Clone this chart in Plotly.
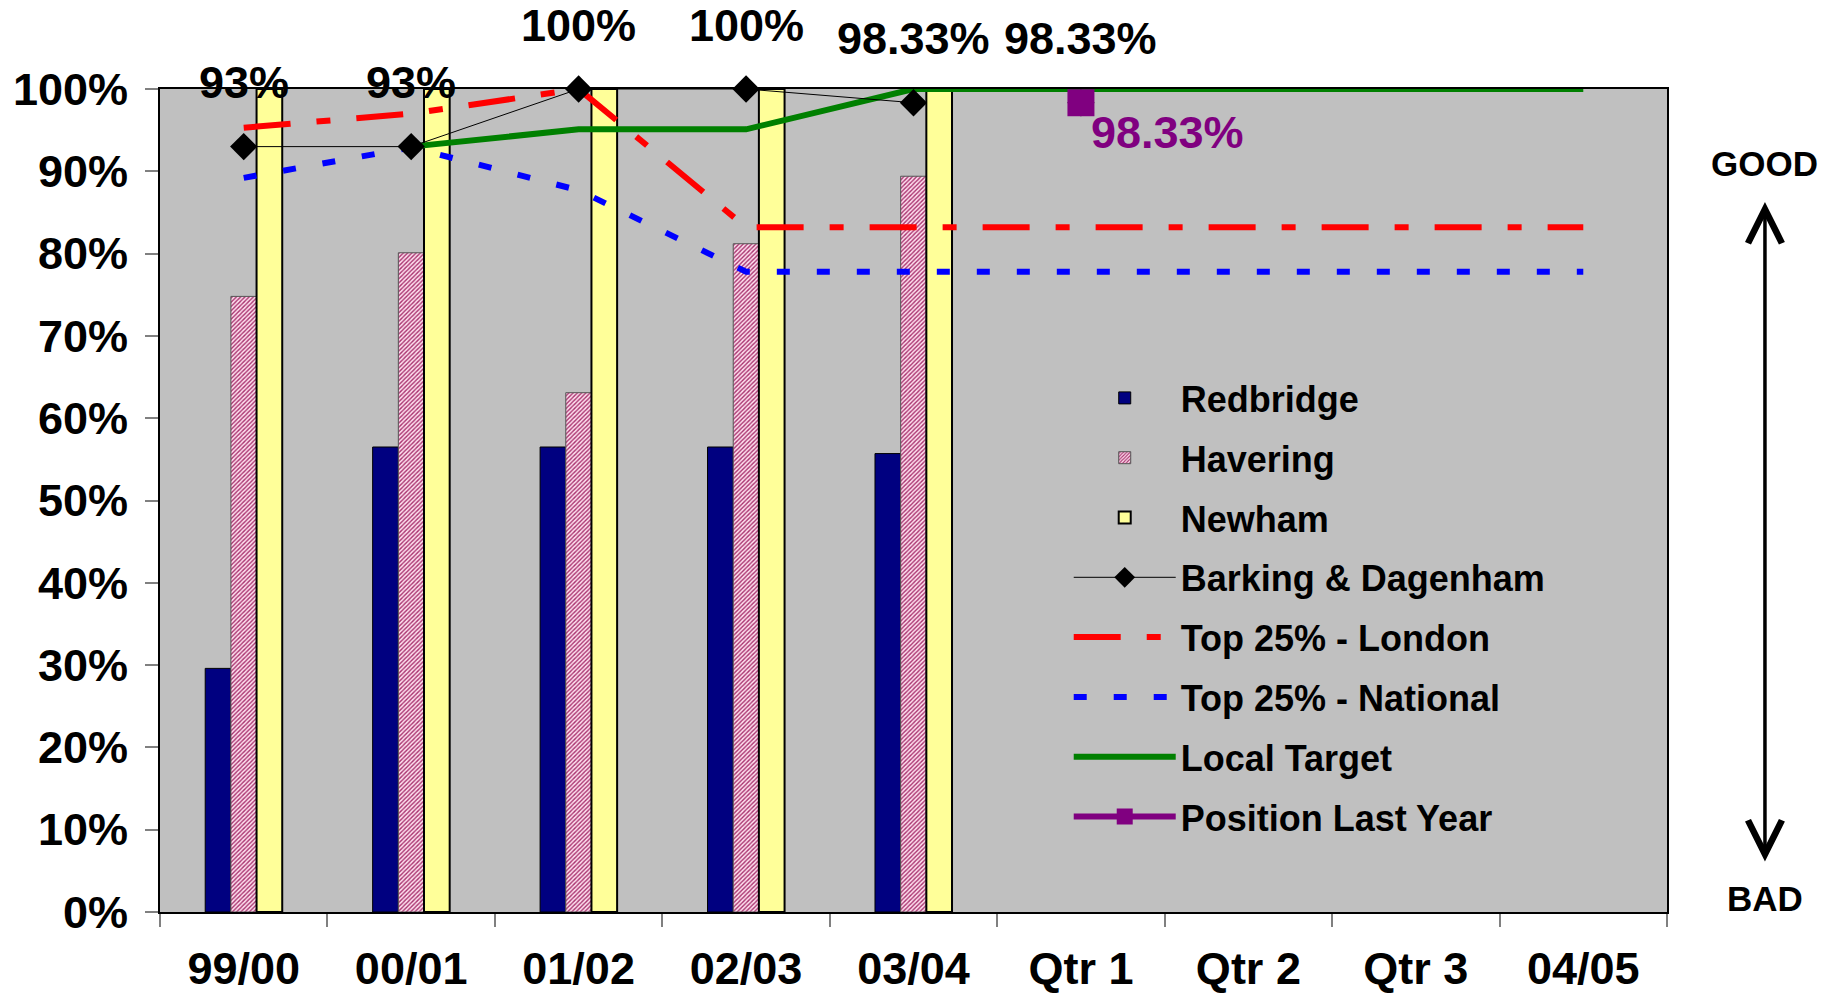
import plotly.graph_objects as go

# ---------------- data ----------------
categories = ["99/00", "00/01", "01/02", "02/03", "03/04", "Qtr 1", "Qtr 2", "Qtr 3", "04/05"]
year_cats = categories[:5]

redbridge = [0.296, 0.565, 0.565, 0.565, 0.557]
havering = [0.748, 0.801, 0.631, 0.812, 0.894]
newham = [1.0, 1.0, 1.0, 1.0, 1.0]
barking = [0.93, 0.93, 1.0, 1.0, 0.9833]
barking_q1_cats = ["Qtr 1"]
barking_q1 = [0.9833]
london_top25 = [0.953, 0.970, 1.0, 0.832, 0.832, 0.832, 0.832, 0.832, 0.832]
national_top25 = [0.892, 0.929, 0.877, 0.778, 0.778, 0.778, 0.778, 0.778, 0.778]
local_target = [None, 0.93, 0.951, 0.951, 1.0, 1.0, 1.0, 1.0, 1.0]
last_year_cats = ["Qtr 1"]
last_year = [0.9833]

y_ticks = [0.0, 0.1, 0.2, 0.3, 0.4, 0.5, 0.6, 0.7, 0.8, 0.9, 1.0]


def pct(v):
    p = v * 100
    return f"{p:.0f}%" if abs(p - round(p)) < 1e-6 else f"{p:.2f}%"


FONT = "Liberation Sans, Arial, sans-serif"

fig = go.Figure()

# bars
fig.add_trace(go.Bar(
    name="Redbridge", x=year_cats, y=redbridge,
    marker=dict(color="#000080", line=dict(color="#000000", width=1)),
    legendgroup="g1", legendrank=1,
))
fig.add_trace(go.Bar(
    name="Havering", x=year_cats, y=havering,
    marker=dict(color="#F4C6DC", line=dict(color="#555555", width=1),
                pattern=dict(shape="/", size=3, solidity=0.45,
                             fgcolor="#A8326E", bgcolor="#FFE0EF", fillmode="replace")),
    legendgroup="g2", legendrank=2,
))
fig.add_trace(go.Bar(
    name="Newham", x=year_cats, y=newham,
    marker=dict(color="#FFFF99", line=dict(color="#000000", width=2)),
    legendgroup="g3", legendrank=3,
))

# lines
fig.add_trace(go.Scatter(
    name="Top 25% - London", x=categories, y=london_top25, mode="lines",
    line=dict(color="#FF0000", width=6, dash="47px,26px,14px,26px"),
    cliponaxis=False, legendgroup="g5", legendrank=5,
))
fig.add_trace(go.Scatter(
    name="Top 25% - National", x=categories, y=national_top25, mode="lines",
    line=dict(color="#0000FF", width=6, dash="13px,27px"),
    cliponaxis=False, legendgroup="g6", legendrank=6,
))
fig.add_trace(go.Scatter(
    name="Local Target", x=categories, y=local_target, mode="lines",
    line=dict(color="#008000", width=6),
    cliponaxis=False, legendgroup="g7", legendrank=7,
))
fig.add_trace(go.Scatter(
    name="Barking & Dagenham", x=year_cats, y=barking, mode="lines+markers",
    line=dict(color="#000000", width=1),
    marker=dict(symbol="diamond", size=21, color="#000000"),
    cliponaxis=False, legendgroup="g4", legendrank=4,
))
fig.add_trace(go.Scatter(
    name="Barking & Dagenham", x=barking_q1_cats, y=barking_q1, mode="markers",
    marker=dict(symbol="diamond", size=21, color="#000000"),
    cliponaxis=False, showlegend=False,
))
fig.add_trace(go.Scatter(
    name="Position Last Year", x=last_year_cats, y=last_year, mode="lines+markers",
    line=dict(color="#800080", width=6),
    marker=dict(symbol="square", size=27, color="#800080"),
    cliponaxis=False, legendgroup="g8", legendrank=8,
))

annotations = []
for c, v in zip(year_cats + barking_q1_cats, barking + barking_q1):
    annotations.append(dict(
        x=c, y=v, xref="x", yref="y", text=pct(v), showarrow=False,
        yanchor="middle", xanchor="center", yshift=64,
        font=dict(family=FONT, size=45, color="#000000", weight="bold"),
    ))
for c, v in zip(last_year_cats, last_year):
    annotations.append(dict(
        x=c, y=v, xref="x", yref="y", text=pct(v), showarrow=False,
        yanchor="middle", xanchor="left", xshift=8, yshift=-30,
        font=dict(family=FONT, size=45, color="#800080", weight="bold"),
    ))

# GOOD / BAD indicator
annotations.append(dict(
    x=1.065, y=0.909, xref="paper", yref="paper", text="GOOD", showarrow=False,
    xanchor="center", yanchor="middle",
    font=dict(family=FONT, size=35, color="#000000", weight="bold"),
))
annotations.append(dict(
    x=1.065, y=0.017, xref="paper", yref="paper", text="BAD", showarrow=False,
    xanchor="center", yanchor="middle",
    font=dict(family=FONT, size=35, color="#000000", weight="bold"),
))
annotations.append(dict(
    x=1.065, y=0.8627, xref="paper", yref="paper", text="", showarrow=True,
    ax=0, ay=661, arrowside="end+start", arrowhead=5, startarrowhead=5,
    arrowsize=1.9, startarrowsize=1.9, arrowwidth=3.5, arrowcolor="#000000",
))

fig.update_layout(
    width=1834, height=999,
    margin=dict(l=160, r=167, t=89, b=87, autoexpand=False),
    paper_bgcolor="#FFFFFF", plot_bgcolor="#C0C0C0",
    font=dict(family=FONT, size=45, color="#000000", weight="bold"),
    barmode="group", bargap=0.54, bargroupgap=0,
    showlegend=True,
    legend=dict(
        x=0.603, y=0.661, xanchor="left", yanchor="top",
        bgcolor="rgba(0,0,0,0)", borderwidth=0,
        font=dict(family=FONT, size=36, color="#000000", weight="bold"),
        traceorder="grouped", tracegroupgap=10, itemwidth=102,
    ),
    annotations=annotations,
)
fig.update_xaxes(
    type="category", categoryorder="array", categoryarray=categories,
    range=[-0.5, len(categories) - 0.5], automargin=False,
    tickson="boundaries", ticks="outside", ticklen=13, tickwidth=2, tickcolor="#808080",
    showline=True, linecolor="#000000", linewidth=2, mirror=True,
    showgrid=False, zeroline=False, ticklabelstandoff=16,
    tickfont=dict(family=FONT, size=45, weight="bold"),
    layer="below traces",
)
fig.update_yaxes(
    range=[0, 1], tickvals=y_ticks, tickformat=".0%", automargin=False,
    ticks="outside", ticklen=13, tickwidth=2, tickcolor="#808080",
    showline=True, linecolor="#000000", linewidth=2, mirror=True,
    showgrid=False, zeroline=False, ticklabelstandoff=8,
    tickfont=dict(family=FONT, size=45, weight="bold"),
    layer="below traces",
)

fig.write_html("out.html", include_plotlyjs=True,
               config={"displayModeBar": False},
               post_script="document.body.style.margin='0';document.body.style.overflow='hidden';")
